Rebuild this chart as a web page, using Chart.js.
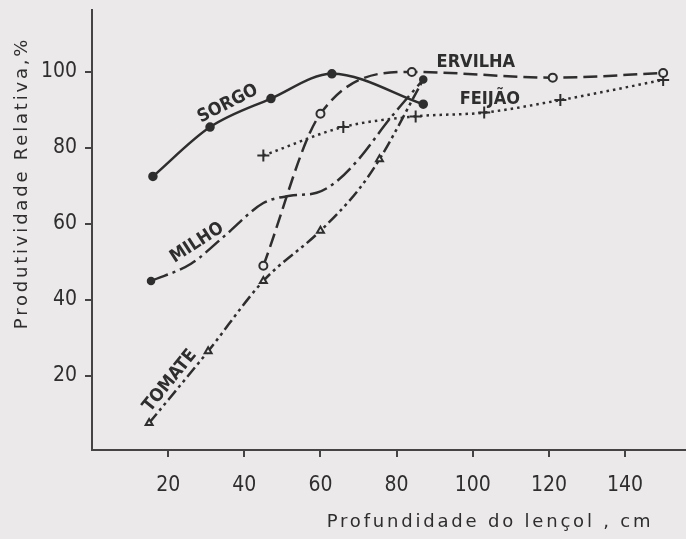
<!DOCTYPE html>
<html>
<head>
<meta charset="utf-8">
<script src="https://cdn.jsdelivr.net/npm/chart.js@4.4.1/dist/chart.umd.min.js"></script>
<style>
  html, body { margin: 0; padding: 0; background: #ebe9e9; }
  #wrap { width: 686px; height: 539px; }
</style>
</head>
<body>
<div id="wrap"><canvas id="grafico" width="686" height="539"></canvas></div>
<script>
// profundidade do lencol (cm) e produtividade relativa (%)
const sorgoX = [16, 31, 47, 63, 87];
const sorgoY = [72.5, 85.5, 93, 99.5, 91.5];

const ervilhaX = [45, 60, 84, 121, 150];
const ervilhaY = [49, 89, 100, 98.5, 99.7];

const feijaoX = [45, 66, 85, 103, 123, 150];
const feijaoY = [78, 85.5, 88.3, 89.3, 92.6, 97.9];

const milhoX = [15.5, 26, 35, 45, 52, 59, 64, 70, 78, 87];
const milhoY = [45, 49.5, 57, 65.5, 67.4, 68.2, 71, 77, 87.4, 98];
const milhoMarca = [1, 0, 0, 0, 0, 0, 0, 0, 0, 1];

const tomateX = [15, 30.5, 45, 60, 70, 75.5, 87];
const tomateY = [7.6, 26.5, 45, 58.2, 69, 77, 98];
const tomateMarca = [1, 1, 1, 1, 0, 1, 0];

const xTicks = [20, 40, 60, 80, 100, 120, 140];
const yTicks = [20, 40, 60, 80, 100];

// nomes das curvas escritos sobre o grafico
const nomes = ["SORGO", "ERVILHA", "FEIJÃO", "MILHO", "TOMATE"];
const nomesX = [35.7, 100.8, 104.5, 27.6, 20.5];
const nomesY = [91.6, 102.4, 92.9, 55, 18.7];
const nomesAng = [-27, 0, 0, -33, -51];

const tituloX = "Profundidade do lençol , cm";
const tituloY = "Produtividade Relativa,%";

const fundo = "#ebe9e9";
const tinta = "#2e2e2e";

function pares(xs, ys) {
    return xs.map((x, i) => ({ x: x, y: ys[i] }));
}

const textos = {
    id: "textos",
    afterDraw(chart) {
        const ctx = chart.ctx;
        const sx = chart.scales.x;
        const sy = chart.scales.y;
        ctx.save();
        ctx.fillStyle = tinta;
        ctx.textAlign = "center";
        ctx.textBaseline = "middle";

        ctx.font = "bold 18px 'DejaVu Sans Condensed'";
        nomes.forEach((nome, i) => {
            ctx.save();
            ctx.translate(sx.getPixelForValue(nomesX[i]), sy.getPixelForValue(nomesY[i]));
            ctx.rotate(nomesAng[i] * Math.PI / 180);
            ctx.fillText(nome, 0, 0);
            ctx.restore();
        });

        ctx.font = "18px 'DejaVu Sans'";
        ctx.letterSpacing = "2.8px";
        ctx.fillText(tituloX, 490, 522);

        ctx.save();
        ctx.translate(22, 183);
        ctx.rotate(-Math.PI / 2);
        ctx.fillText(tituloY, 0, 0);
        ctx.restore();
        ctx.restore();
    }
};

new Chart(document.getElementById("grafico"), {
    type: "line",
    data: {
        datasets: [
            {
                label: "Sorgo",
                data: pares(sorgoX, sorgoY),
                borderColor: tinta,
                backgroundColor: tinta,
                borderWidth: 2.5,
                pointRadius: 3.5,
                pointStyle: "circle",
            },
            {
                label: "Ervilha",
                data: pares(ervilhaX, ervilhaY),
                borderColor: tinta,
                backgroundColor: fundo,
                borderWidth: 2.5,
                borderDash: [14, 6],
                pointRadius: 4,
                pointBorderWidth: 2,
                pointStyle: "circle",
            },
            {
                label: "Feijão",
                data: pares(feijaoX, feijaoY),
                borderColor: tinta,
                backgroundColor: tinta,
                borderWidth: 2.5,
                borderDash: [2.5, 4],
                pointRadius: 6,
                pointBorderWidth: 2,
                pointStyle: "cross",
            },
            {
                label: "Milho",
                data: pares(milhoX, milhoY),
                borderColor: tinta,
                backgroundColor: tinta,
                borderWidth: 2.5,
                borderDash: [18, 5, 3, 5],
                pointRadius: milhoMarca.map((m) => m * 3),
                pointStyle: "circle",
            },
            {
                label: "Tomate",
                data: pares(tomateX, tomateY),
                borderColor: tinta,
                backgroundColor: fundo,
                borderWidth: 2.5,
                borderDash: [12, 4, 3, 4, 3, 4],
                pointRadius: tomateMarca.map((m) => m * 4),
                pointBorderWidth: 2,
                pointStyle: "triangle",
            },
        ],
    },
    options: {
        responsive: false,
        animation: false,
        devicePixelRatio: 1,
        cubicInterpolationMode: "monotone",
        layout: { autoPadding: false, padding: { top: 10, right: 0, left: 0, bottom: 0 } },
        plugins: {
            legend: { display: false },
            tooltip: { enabled: false },
        },
        scales: {
            x: {
                type: "linear",
                min: 0,
                max: 156,
                afterBuildTicks: (s) => { s.ticks = xTicks.map((v) => ({ value: v })); },
                afterFit: (s) => { s.height = 89; s.paddingLeft = 0; s.paddingRight = 0; },
                border: { display: true, color: "#444", width: 2 },
                grid: { drawOnChartArea: false, drawTicks: true, tickLength: 7, color: "#444", lineWidth: 2 },
                ticks: { color: tinta, padding: 16, font: { family: "'DejaVu Sans Condensed'", size: 21 } },
            },
            y: {
                min: 0.5,
                max: 116.3,
                afterBuildTicks: (s) => { s.ticks = yTicks.map((v) => ({ value: v })); },
                afterFit: (s) => { s.width = 92; s.paddingTop = 0; s.paddingBottom = 0; },
                border: { display: true, color: "#444", width: 2 },
                grid: { drawOnChartArea: false, drawTicks: true, tickLength: 7, color: "#444", lineWidth: 2 },
                ticks: { color: tinta, padding: 8, font: { family: "'DejaVu Sans Condensed'", size: 21 } },
            },
        },
    },
    plugins: [textos],
});
</script>
</body>
</html>
